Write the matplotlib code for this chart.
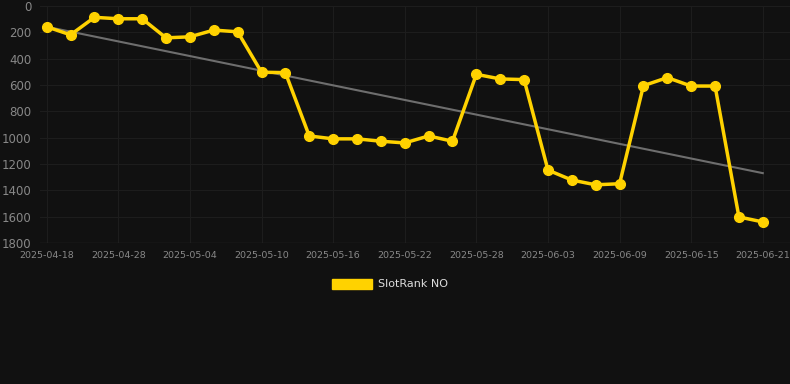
import numpy as np
import matplotlib
matplotlib.use("Agg")
import matplotlib.pyplot as plt

# rank per check date (category axis, labelled every third point)
dates = ["2025-04-18", "2025-04-24", "2025-04-26", "2025-04-28", "2025-04-30",
         "2025-05-02", "2025-05-04", "2025-05-06", "2025-05-08", "2025-05-10",
         "2025-05-12", "2025-05-14", "2025-05-16", "2025-05-18", "2025-05-20",
         "2025-05-22", "2025-05-24", "2025-05-26", "2025-05-28", "2025-05-30",
         "2025-06-01", "2025-06-03", "2025-06-05", "2025-06-07", "2025-06-09",
         "2025-06-11", "2025-06-13", "2025-06-15", "2025-06-17", "2025-06-19",
         "2025-06-21"]
ranks = [158, 219, 86, 97, 97, 242, 234, 183, 196, 503,
         506, 987, 1009, 1009, 1027, 1040, 987, 1027, 519, 554,
         559, 1246, 1322, 1358, 1350, 605, 544, 608, 608, 1602,
         1640]
series_name = "SlotRank NO"
y_ticks = [0, 200, 400, 600, 800, 1000, 1200, 1400, 1600, 1800]

BG = "#111111"
GOLD = "#FFD200"

x = np.arange(len(ranks))

fig = plt.figure(figsize=(7.9, 3.84), dpi=100, facecolor=BG)
ax = fig.add_axes([40 / 790, 1 - 243 / 384, 750 / 790, 237 / 384], facecolor=BG)

# trend line (linear fit)
k, b = np.polyfit(x, ranks, 1)
ax.plot(x, k * x + b, color="#6e6e6e", linewidth=1.5, zorder=2)

ax.plot(x, ranks, color=GOLD, linewidth=2.5, marker="o", markersize=7,
        label=series_name, zorder=3)

ax.set_ylim(1800, 0)
ax.set_xlim(-0.28, 31.14)
ax.set_yticks(y_ticks)
ax.set_xticks(x[::3])
ax.set_xticklabels(dates[::3])

ax.grid(True, color="#1d1d1d", linewidth=0.8)
ax.set_axisbelow(True)
for s in ax.spines.values():
    s.set_visible(False)
ax.axhline(1800, color="#2a2a2a", linewidth=1, zorder=1)
ax.tick_params(axis="both", length=0, colors="#888888")
ax.tick_params(axis="y", labelsize=8.5, pad=6)
ax.tick_params(axis="x", labelsize=6.8, pad=6)

leg = fig.legend(handles=[plt.Rectangle((0, 0), 1, 1, color=GOLD)],
                 labels=[series_name], loc="center", bbox_to_anchor=(390 / 790, 1 - 284 / 384),
                 frameon=False, handlelength=3.6, handleheight=1.0, handletextpad=0.5,
                 fontsize=8, labelcolor="#dddddd")

fig.savefig("out.png", dpi=100, facecolor=BG)
